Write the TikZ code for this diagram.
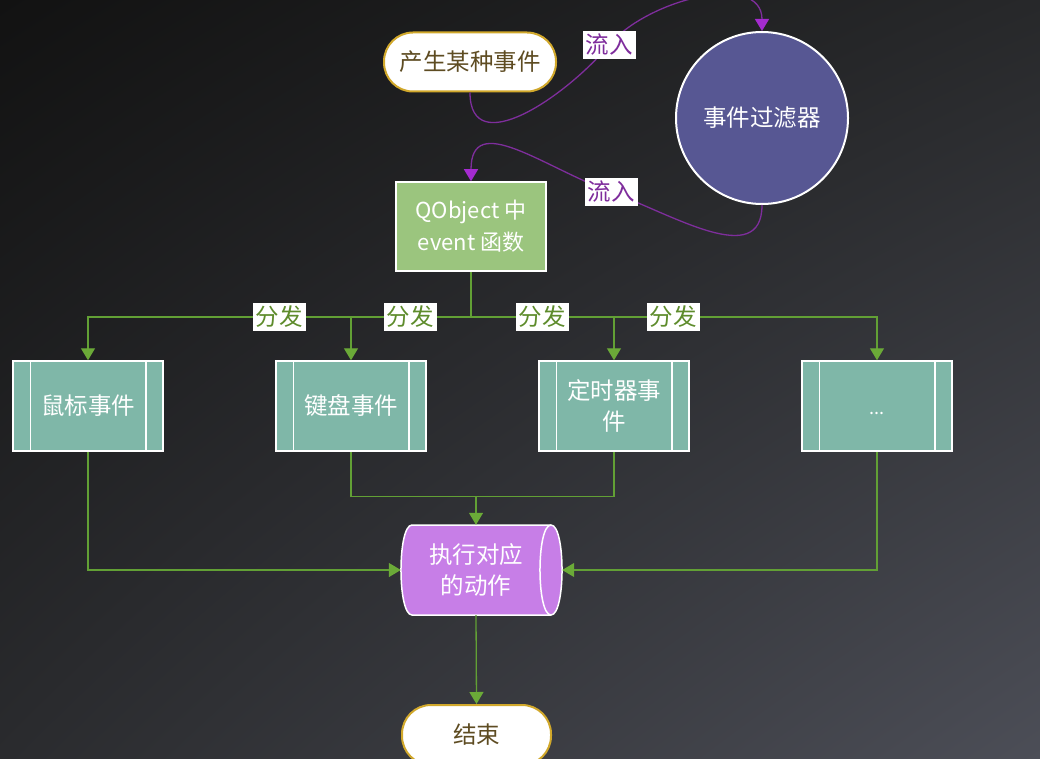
\documentclass[tikz,border=0pt]{standalone}
\usepackage{fontspec}
\newfontfamily\cjk{Noto Sans CJK SC}
\usetikzlibrary{arrows.meta,shadings}
\definecolor{bgTL}{HTML}{121212}
\definecolor{bgTR}{HTML}{27282A}
\definecolor{bgBL}{HTML}{2A2B2E}
\definecolor{bgBR}{HTML}{4C4E57}
\definecolor{goldc}{HTML}{D1A82B}
\definecolor{brownc}{HTML}{5E4C22}
\definecolor{slatec}{HTML}{575793}
\definecolor{qgreen}{HTML}{9BC57E}
\definecolor{tealc}{HTML}{7FB7A8}
\definecolor{lilac}{HTML}{C77EE7}
\definecolor{purpline}{HTML}{7E2E9C}
\definecolor{purptip}{HTML}{A52BD0}
\definecolor{purptext}{HTML}{7E2C9C}
\definecolor{gline}{HTML}{62A035}
\definecolor{gtip}{HTML}{6BAA38}
\definecolor{gtext}{HTML}{5E8C2C}
\tikzset{
  stadium/.style={draw=goldc, line width=2pt, fill=white, rounded corners=29pt,
    minimum height=59pt, text=brownc},
  filterc/.style={circle, draw=white, line width=2pt, fill=slatec, minimum size=172pt,
    inner sep=0pt, text=white},
  qbox/.style={draw=white, line width=1.5pt, fill=qgreen, minimum width=150pt,
    minimum height=89pt, text=white, align=center},
  procbox/.style={draw=white, line width=1.5pt, fill=tealc, minimum width=150pt,
    minimum height=90pt, text=white, align=center},
  flowlbl/.style={fill=white, text=purptext, inner sep=3pt},
  distlbl/.style={fill=white, text=gtext, inner sep=3pt},
  flowline/.style={draw=purpline, line width=1.3pt, -{Triangle[width=14pt,length=12pt,color=purptip]}},
  gplain/.style={draw=gline, line width=1.3pt},
  garrow/.style={gplain, -{Triangle[width=14pt,length=12pt,color=gtip]}},
  inner/.style={draw=white, line width=1.5pt}
}
\begin{document}
\begin{tikzpicture}[x=1pt, y=-1pt, font=\cjk\fontsize{23.5}{31}\selectfont]
\useasboundingbox (0,0) rectangle (1040,759);
\shade[upper left=bgTL, upper right=bgTR, lower left=bgBL, lower right=bgBR] (0,0) rectangle (1040,759);
\begin{scope}
\clip (0,0) rectangle (1040,759);

% main nodes
\node[stadium, minimum width=172pt] (src) at (470,62) {产生某种事件};
\node[filterc] (filter) at (762,118) {事件过滤器};
\node[qbox, font=\cjk\fontsize{22}{32}\selectfont] (qobj) at (471,226.5) {QObject 中\\event 函数};

\node[procbox] (b1) at (88,406) {鼠标事件};
\node[procbox] (b2) at (351,406) {键盘事件};
\node[procbox] (b3) at (614,406) {定时器事\\件};
\node[procbox, text height=16pt, text depth=0pt, font=\cjk\fontsize{18}{20}\selectfont] (b4) at (877,406) {...};
\foreach \b in {b1,b2,b3,b4}{
  \draw[inner] ([xshift=18pt]\b.north west) -- ([xshift=18pt]\b.south west);
  \draw[inner] ([xshift=-18pt]\b.north east) -- ([xshift=-18pt]\b.south east);
}

% cylinder-like store
\draw[fill=lilac, draw=white, line width=1.5pt]
  (412,525) -- (551,525) .. controls (565.7,525) and (565.7,615) .. (551,615)
  -- (412,615) .. controls (397.3,615) and (397.3,525) .. (412,525) -- cycle;
\draw[inner] (551,525) .. controls (536.3,525) and (536.3,615) .. (551,615);
\node[minimum width=150pt, minimum height=90pt, text=white, align=center] (act) at (476,570) {执行对应\\的动作};

\node[stadium, minimum width=149pt, minimum height=60pt] (fin) at (476.5,735) {结束};

% flow-in curves
\coordinate (p1) at (609,45);
\coordinate (p2) at (611,192);
\draw[flowline] (src.south) to[out=-90,in=-130,looseness=1.2] (p1) to[out=50,in=90] (filter.north);
\draw[flowline] (filter.south) to[out=-90,in=-20,looseness=1.1] (p2) to[out=160,in=90,looseness=1.3] (qobj.north);
\node[flowlbl] (fl1) at (p1) {流入};
\node[flowlbl] (fl2) at (p2) {流入};

% distribution
\coordinate (hub) at (qobj.south |- 0,317);
\draw[gplain] (qobj.south) -- (hub);
\draw[garrow] (hub) -| (b1.north);
\draw[garrow] (hub) -| (b2.north);
\draw[garrow] (hub) -| (b3.north);
\draw[garrow] (hub) -| (b4.north);
\node[distlbl] (d1) at (279,317) {分发};
\node[distlbl] (d2) at (410,317) {分发};
\node[distlbl] (d3) at (542,317) {分发};
\node[distlbl] (d4) at (673,317) {分发};

% merge
\draw[garrow] (b1.south) |- (act.west);
\draw[garrow] (b4.south) |- ([xshift=11pt]act.east);
\draw[gplain] (b2.south) -- ++(0,45) -| (b3.south);
\draw[garrow] (act.north |- 0,496) -- (act.north);
\draw[garrow] (act.south) -- (fin.north);
\end{scope}
\end{tikzpicture}
\end{document}
